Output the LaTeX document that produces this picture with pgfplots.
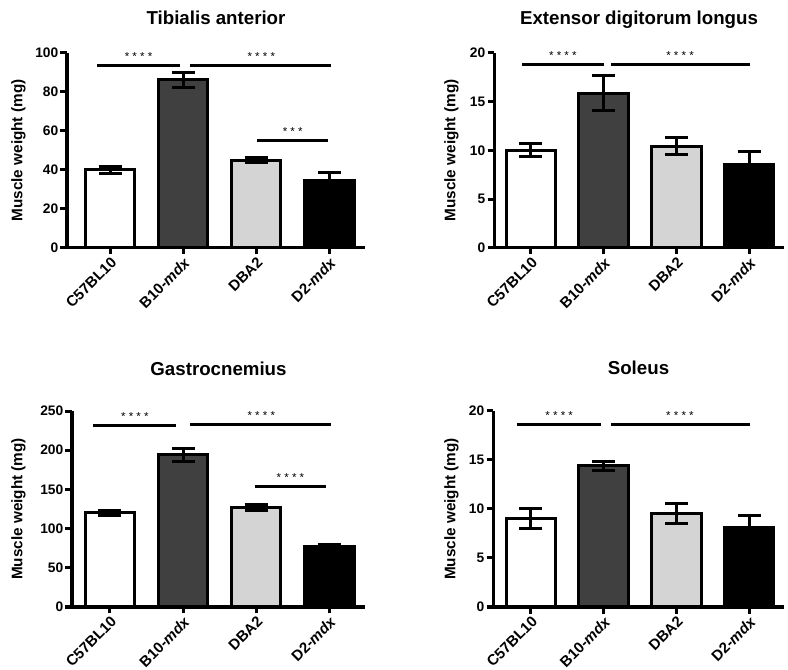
\documentclass[border=0pt]{standalone}
\usepackage{fontspec}
\setmainfont{Liberation Sans}
\usepackage{pgfplots}
\pgfplotsset{compat=1.18}
\definecolor{darkbar}{HTML}{404040}
\definecolor{lightbar}{HTML}{D4D4D4}
\pgfplotsset{
  prism/.style={
    scale only axis,
    axis x line=bottom, axis y line=left,
    axis line style={-, line width=3bp, black},
    tick align=outside,
    major tick length=6.5bp,
    every tick/.style={black, line width=3bp},
    xtick={0,1,2,3},
    xticklabels={C57BL10, B10-\textit{mdx}, DBA2, D2-\textit{mdx}},
    x tick label style={rotate=45, anchor=north east, font=\fontsize{15bp}{17bp}\selectfont\bfseries, inner sep=1bp},
    y tick label style={font=\fontsize{13.8bp}{16bp}\selectfont\bfseries, inner sep=2bp},
    /pgf/number format/assume math mode=true,
    ymin=0, minor tick num=0,
    clip=false,
    ylabel={Muscle weight (mg)},
  },
  tstyle/.style={every axis title/.style={at={(0.5,1)}, anchor=base, yshift=#1, font=\fontsize{18.7bp}{20bp}\selectfont\bfseries}},
  ystyle/.style={every axis y label/.style={at={(0,0.5)}, xshift=#1, rotate=90, anchor=center, font=\fontsize{15.3bp}{17bp}\selectfont\bfseries}},
  bar/.style={ybar, bar width=0.68, bar shift=0pt, draw=black, line width=3bp,
    error bars/y dir=both, error bars/y explicit,
    error bars/error bar style={line width=3bp, black},
    error bars/error mark options={rotate=90, mark size=11.5bp, line width=3bp, black}},
  sig/.style={black, line width=3bp, no markers},
}
\newcommand{\stars}[3]{\node[anchor=base, yshift=5bp, font=\fontsize{11.5bp}{12bp}\selectfont] at (axis cs:#1,#2) {#3};}
\begin{document}
\begin{tikzpicture}
\useasboundingbox (0,0) rectangle (788bp,670bp);
% Tibialis anterior
\begin{axis}[prism, at={(67bp,422bp)}, anchor=south west, width=298bp, height=195bp,
  xmin=-0.589, xmax=3.49, ymax=100, ytick={0,20,40,60,80,100},
  title={Tibialis anterior}, tstyle=28bp, ystyle=-48.5bp]
\addplot[bar, fill=white] coordinates {(0,40) +- (0,1.9)};
\addplot[bar, fill=darkbar] coordinates {(1,86.2) +- (0,3.8)};
\addplot[bar, fill=lightbar] coordinates {(2,45.1) +- (0,1.2)};
\addplot[bar, fill=black] coordinates {(3,34.5) +- (0,4.1)};
\addplot[sig] coordinates {(-0.18,93.8) (0.96,93.8)};
\addplot[sig] coordinates {(1.10,93.8) (3.03,93.8)};
\addplot[sig] coordinates {(2.01,55) (2.99,55)};
\stars{0.39}{93.8}{* * * *}
\stars{2.07}{93.8}{* * * *}
\stars{2.50}{55}{* * *}
\end{axis}
% Extensor digitorum longus
\begin{axis}[prism, at={(494bp,422bp)}, anchor=south west, width=290bp, height=195bp,
  xmin=-0.507, xmax=3.48, ymax=20, ytick={0,5,10,15,20},
  title={Extensor digitorum longus}, tstyle=28bp, ystyle=-42.5bp]
\addplot[bar, fill=white] coordinates {(0,10.05) +- (0,0.65)};
\addplot[bar, fill=darkbar] coordinates {(1,15.87) +- (0,1.78)};
\addplot[bar, fill=lightbar] coordinates {(2,10.46) +- (0,0.9)};
\addplot[bar, fill=black] coordinates {(3,8.58) +- (0,1.3)};
\addplot[sig] coordinates {(-0.12,18.77) (1.0,18.77)};
\addplot[sig] coordinates {(1.10,18.77) (3.01,18.77)};
\stars{0.44}{18.77}{* * * *}
\stars{2.05}{18.77}{* * * *}
\end{axis}
% Gastrocnemius
\begin{axis}[prism, at={(72bp,63bp)}, anchor=south west, width=293bp, height=196bp,
  xmin=-0.52, xmax=3.49, ymax=250, ytick={0,50,100,150,200,250},
  title={Gastrocnemius}, tstyle=36bp, ystyle=-53.5bp]
\addplot[bar, fill=white] coordinates {(0,119.9) +- (0,3.6)};
\addplot[bar, fill=darkbar] coordinates {(1,193.9) +- (0,8.1)};
\addplot[bar, fill=lightbar] coordinates {(2,127.2) +- (0,3.8)};
\addplot[bar, fill=black] coordinates {(3,76.9) +- (0,3)};
\addplot[sig] coordinates {(-0.23,231) (0.9,231)};
\addplot[sig] coordinates {(1.10,233) (3.03,233)};
\addplot[sig] coordinates {(1.99,153.5) (2.96,153.5)};
\stars{0.34}{231}{* * * *}
\stars{2.07}{233}{* * * *}
\stars{2.47}{153.5}{* * * *}
\end{axis}
% Soleus
\begin{axis}[prism, at={(493bp,63bp)}, anchor=south west, width=291bp, height=196bp,
  xmin=-0.52, xmax=3.48, ymax=20, ytick={0,5,10,15,20},
  title={Soleus}, tstyle=36bp, ystyle=-41.5bp]
\addplot[bar, fill=white] coordinates {(0,9.05) +- (0,1.05)};
\addplot[bar, fill=darkbar] coordinates {(1,14.39) +- (0,0.45)};
\addplot[bar, fill=lightbar] coordinates {(2,9.52) +- (0,1.0)};
\addplot[bar, fill=black] coordinates {(3,8.09) +- (0,1.23)};
\addplot[sig] coordinates {(-0.19,18.67) (0.96,18.67)};
\addplot[sig] coordinates {(1.10,18.67) (3.01,18.67)};
\stars{0.39}{18.67}{* * * *}
\stars{2.05}{18.67}{* * * *}
\end{axis}
\end{tikzpicture}
\end{document}
